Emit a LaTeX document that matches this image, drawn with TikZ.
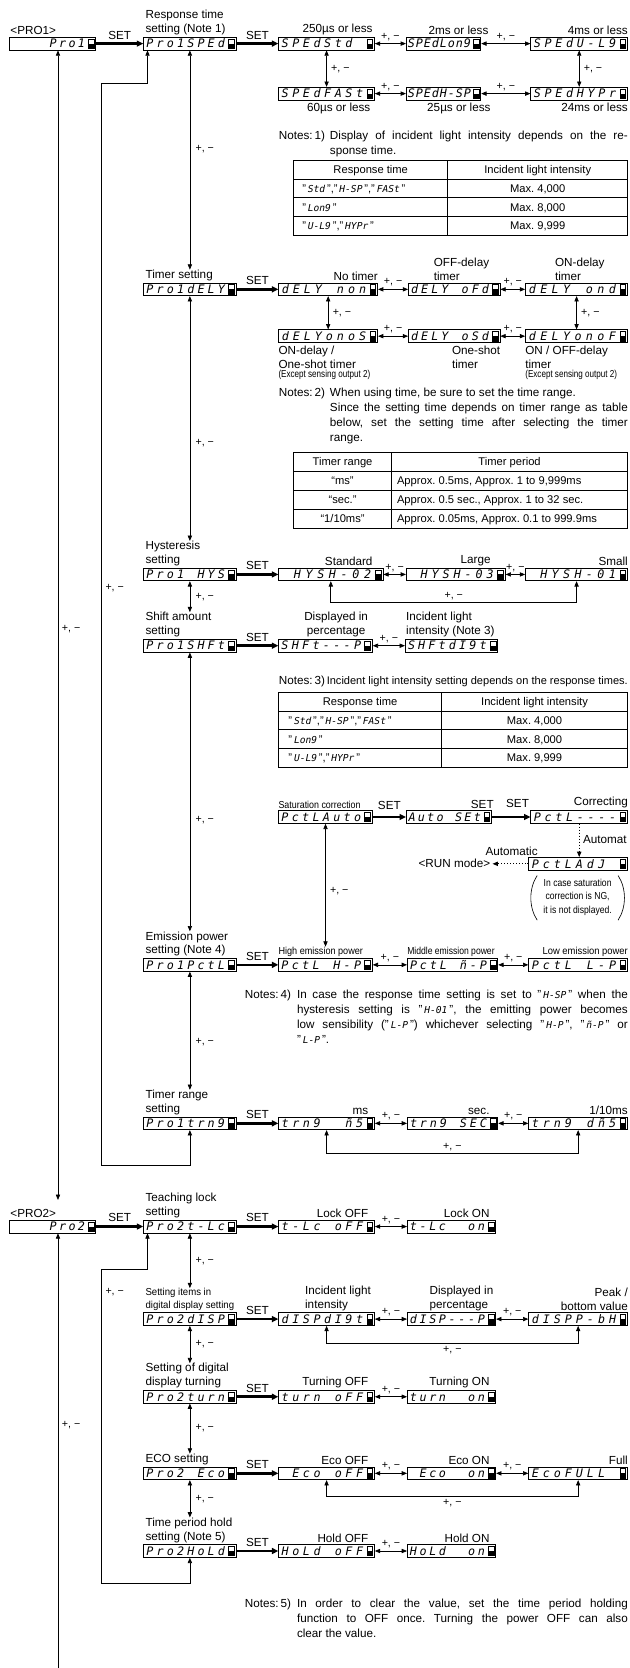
\documentclass[tikz,border=0pt]{standalone}
\usepackage{fontspec}
\setmainfont{Liberation Sans}
\newfontfamily\segfam{DejaVu Sans Mono}
\usepackage{graphicx}
\usetikzlibrary{arrows.meta}

\newlength\dspcw
\newcommand\segf{\segfam\itshape\fontsize{11}{11}\selectfont}
\newcommand\sgt[1]{{\segfam\itshape\fontsize{9}{9}\selectfont #1}}
\newcommand\qs[1]{"\,\sgt{#1}\,"}
\newcommand\dsp[1]{\dspi#1\relax}
\def\dspi#1{\ifx#1\relax\else\ifx#1*\hbox to\dspcw{\hfil}\else\hbox to\dspcw{\hss#1\hss}\fi\expandafter\dspi\fi}
\newcommand\cnd[2][0.88]{{\fontsize{9.5}{11}\selectfont\scalebox{#1}[1]{#2}}}

\newcommand\disp[5]{%
  \pgfmathsetmacro\dspW{#3-#2}%
  \pgfmathsetmacro\dspX{(#2+#3)/2}%
  \pgfmathsetlength\dspcw{(#3-#2-10)/8}%
  \node[dispbox, minimum width=\dspW pt] (#1) at (\dspX,#4) {};
  \node[anchor=base west, inner sep=0pt, font=\segf] (#1t) at ([xshift=1.2pt,yshift=-4pt]#1.west) {\dsp{#5}};
  \draw[line width=0.45pt] ([xshift=-7.6pt,yshift=-4.4pt]#1.east) rectangle ([xshift=-2.2pt,yshift=4.4pt]#1.east);
  \fill ([xshift=-7.6pt,yshift=-4.4pt]#1.east) rectangle ([xshift=-2.2pt,yshift=0pt]#1.east);
}

\begin{document}
\frenchspacing
\begin{tikzpicture}[x=1pt,y=-1pt,
  >={Triangle[length=5pt,width=4pt]},
  dispbox/.style={draw, line width=0.7pt, minimum height=12pt, inner sep=0pt, fill=white},
  lbl/.style={inner sep=0pt, font=\fontsize{11}{13}\selectfont, align=left},
  tbl/.style={inner sep=0pt, font=\fontsize{10.5}{12}\selectfont},
  pm/.style={inner sep=0pt, font=\fontsize{10}{11}\selectfont},
  dbl/.style={line width=0.65pt, <->},
  sarr/.style={line width=0.65pt, ->},
  setarr/.style={line width=2.4pt, arrows={-Triangle[length=6pt,width=5.5pt]}},
  tab/.style={line width=0.7pt},
  dotarr/.style={line width=0.8pt, dotted, ->}]
\fill[white] (0,0) rectangle (592,1568);
\useasboundingbox (0,0) rectangle (592,1568);

% ---------- main column PRO1 ----------
\disp{PRO1}{9}{90}{41}{****Pro1}
\disp{R1}{135}{222}{41}{Pro1SPEd}
\disp{R2}{135}{222}{272}{Pro1dELY}
\disp{R3}{135}{222}{540}{Pro1*HYS}
\disp{R4}{135}{222}{607}{Pro1SHFt}
\disp{R6}{135}{222}{907}{Pro1PctL}
\disp{R7}{135}{222}{1056}{Pro1trn9}

\node[lbl, anchor=south west] (LP1) at ([xshift=1pt,yshift=1.5pt]PRO1.north west) {<PRO1>};
\node[lbl, anchor=south west] (L1) at ([xshift=2pt,yshift=1.5pt]R1.north west) {Response time\\setting (Note 1)};
\node[lbl, anchor=south west] (L2) at ([xshift=2pt,yshift=1.5pt]R2.north west) {Timer setting};
\node[lbl, anchor=south west] (L3) at ([xshift=2pt,yshift=1.5pt]R3.north west) {Hysteresis\\setting};
\node[lbl, anchor=south west] (L4) at ([xshift=2pt,yshift=1.5pt]R4.north west) {Shift amount\\setting};
\node[lbl, anchor=south west] (L6) at ([xshift=2pt,yshift=1.5pt]R6.north west) {Emission power\\setting (Note 4)};
\node[lbl, anchor=south west] (L7) at ([xshift=2pt,yshift=1.5pt]R7.north west) {Timer range\\setting};

\draw[setarr] (PRO1.east) -- node[lbl, above=3pt] (S0) {SET} (R1.west);
\draw[dbl] (R1.south) -- node[pm, right=5pt, pos=0.45] (m1) {+, −} (R1.south |- L2.north);
\draw[dbl] (R2.south) -- node[pm, right=5pt, pos=0.6] (m2) {+, −} (R2.south |- L3.north);
\draw[dbl] (R3.south) -- node[pm, right=5pt, pos=0.5] (m3) {+, −} (R3.south |- L4.north);
\draw[dbl] (R4.south) -- node[pm, right=5pt, pos=0.6] (m4) {+, −} (R4.south |- L6.north);
\draw[dbl] (R6.south) -- node[pm, right=5pt, pos=0.6] (m5) {+, −} (R6.south |- L7.north);

% loops on the left
\coordinate (ka) at (95.5,1095);
\coordinate (kb) at (95.5,78);
\draw[dbl] (R7.south) |- (ka) -- (kb) -| ([xshift=4pt]R1.south west);
\node[pm, anchor=west] (pmL1) at (99,553) {+, −};
\coordinate (lt) at (54.5,1128);
\draw[dbl] ([xshift=5pt]PRO1.south) -- (lt);
\node[pm, anchor=west] (pmL2) at (58,591) {+, −};

% ---------- response time ----------
\disp{s1}{262}{352}{41}{SPEdStd*}
\disp{s2}{382}{452}{41}{SPEdLon9}
\disp{s3}{499}{590}{41}{SPEdU-L9}
\disp{s4}{262}{352}{88}{SPEdFASt}
\disp{s5}{382}{452}{88}{SPEdH-SP}
\disp{s6}{499}{590}{88}{SPEdHYPr}
\draw[setarr] (R1.east) -- node[lbl, above=3pt] (S1) {SET} (s1.west);
\draw[dbl] (s1.east) -- node[pm, above=2.5pt] {+, −} (s2.west);
\draw[dbl] (s2.east) -- node[pm, above=2.5pt] {+, −} (s3.west);
\draw[dbl] (s4.east) -- node[pm, above=2.5pt] {+, −} (s5.west);
\draw[dbl] (s5.east) -- node[pm, above=2.5pt] {+, −} (s6.west);
\draw[dbl] (s1.south) -- node[pm, right=4pt] {+, −} (s4.north);
\draw[dbl] (s3.south) -- node[pm, right=4pt] {+, −} (s6.north);
\node[lbl, anchor=south east] (v1) at ([xshift=-2pt,yshift=1.5pt]s1.north east) {250µs or less};
\node[lbl, anchor=south east] (v2) at ([xshift=7pt,yshift=1.5pt]s2.north east) {2ms or less};
\node[lbl, anchor=south east] (v3) at ([yshift=1.5pt]s3.north east) {4ms or less};
\node[lbl, anchor=north east] (v4) at ([xshift=-4pt,yshift=-2.5pt]s4.south east) {60µs or less};
\node[lbl, anchor=north east] (v5) at ([xshift=9pt,yshift=-2.5pt]s5.south east) {25µs or less};
\node[lbl, anchor=north east] (v6) at ([yshift=-2.5pt]s6.south east) {24ms or less};

\node[lbl, anchor=base west] (N1a) at (262,131) {Notes:\,1)};
\node[lbl, anchor=base west] (N1b) at (310,131) {\makebox[280pt][s]{Display of incident light intensity depends on the re-}};
\node[lbl, anchor=base west] (N1c) at (310,145) {sponse time.};

% table 1
\draw[tab] (276,151) rectangle (590,221);
\draw[tab] (276,168.5) -- (590,168.5) (276,186) -- (590,186) (276,203.5) -- (590,203.5) (421,151) -- (421,221);
\node[tbl, anchor=base] (T1a) at (348.5,163.5) {Response time};
\node[tbl, anchor=base] (T1b) at (505.5,163.5) {Incident light intensity};
\node[tbl, anchor=base west] (T1c) at (284,181) {\qs{Std},\qs{H-SP},\qs{FASt}};
\node[tbl, anchor=base] (T1d) at (505.5,181) {Max. 4,000};
\node[tbl, anchor=base west] (T1e) at (284,198.5) {\qs{Lon9}};
\node[tbl, anchor=base] (T1f) at (505.5,198.5) {Max. 8,000};
\node[tbl, anchor=base west] (T1g) at (284,216) {\qs{U-L9},\qs{HYPr}};
\node[tbl, anchor=base] (T1h) at (505.5,216) {Max. 9,999};

% ---------- timer ----------
\disp{t1}{262}{355}{272}{dELY*non}
\disp{t2}{384}{470}{272}{dELY*oFd}
\disp{t3}{494}{590}{272}{dELY*ond}
\disp{t4}{262}{355}{316}{dELYonoS}
\disp{t5}{384}{470}{316}{dELY*oSd}
\disp{t6}{494}{590}{316}{dELYonoF}
\draw[setarr] (R2.east) -- node[lbl, above=3pt] (S2) {SET} (t1.west);
\draw[dbl] (t1.east) -- node[pm, above=2.5pt] {+, −} (t2.west);
\draw[dbl] (t2.east) -- node[pm, above=2.5pt] {+, −} (t3.west);
\draw[dbl] (t4.east) -- node[pm, above=2.5pt] {+, −} (t5.west);
\draw[dbl] (t5.east) -- node[pm, above=2.5pt] {+, −} (t6.west);
\draw[dbl] (t1.south) -- node[pm, right=4pt] {+, −} (t4.north);
\draw[dbl] (t3.south) -- node[pm, right=4pt] {+, −} (t6.north);
\node[lbl, anchor=south east] (w1) at ([xshift=0pt,yshift=1.5pt]t1.north east) {No timer};
\node[lbl, anchor=south west] (w2) at ([xshift=24pt,yshift=1.5pt]t2.north west) {OFF-delay\\timer};
\node[lbl, anchor=south west] (w3) at ([xshift=28pt,yshift=1.5pt]t3.north west) {ON-delay\\timer};
\node[lbl, anchor=north west] (w4) at ([yshift=-2.5pt]t4.south west) {ON-delay /\\One-shot timer};
\node[anchor=north west, inner sep=0pt] (w4b) at ([yshift=-1.5pt]w4.south west) {\cnd[0.8]{(Except sensing output 2)}};
\node[lbl, anchor=north east] (w5) at ([yshift=-2.5pt]t5.south east) {One-shot\\timer};
\node[lbl, anchor=north west] (w6) at ([yshift=-2.5pt]t6.south west) {ON / OFF-delay\\timer};
\node[anchor=north west, inner sep=0pt] (w6b) at ([yshift=-1.5pt]w6.south west) {\cnd[0.8]{(Except sensing output 2)}};

\node[lbl, anchor=base west] (N2a) at (262,373) {Notes:\,2)};
\node[lbl, anchor=base west] (N2b) at (310,373) {When using time, be sure to set the time range.};
\node[lbl, anchor=base west] (N2c) at (310,387) {\makebox[280pt][s]{Since the setting time depends on timer range as table}};
\node[lbl, anchor=base west] (N2d) at (310,401) {\makebox[280pt][s]{below, set the setting time after selecting the timer}};
\node[lbl, anchor=base west] (N2e) at (310,415) {range.};

% table 2
\draw[tab] (276,425) rectangle (590,497);
\draw[tab] (276,443) -- (590,443) (276,461) -- (590,461) (276,479) -- (590,479) (368,425) -- (368,497);
\node[tbl, anchor=base] (T2a) at (322,437.5) {Timer range};
\node[tbl, anchor=base] (T2b) at (479,437.5) {Timer period};
\node[tbl, anchor=base] (T2c) at (322,455.5) {“ms”};
\node[tbl, anchor=base west] (T2d) at (373,455.5) {Approx. 0.5ms, Approx. 1 to 9,999ms};
\node[tbl, anchor=base] (T2e) at (322,473.5) {“sec.”};
\node[tbl, anchor=base west] (T2f) at (373,473.5) {Approx. 0.5 sec., Approx. 1 to 32 sec.};
\node[tbl, anchor=base] (T2g) at (322,491.5) {“1/10ms”};
\node[tbl, anchor=base west] (T2h) at (373,491.5) {Approx. 0.05ms, Approx. 0.1 to 999.9ms};

% ---------- hysteresis ----------
\disp{h1}{262}{360}{540}{*HYSH-02}
\disp{h2}{382}{475}{540}{*HYSH-03}
\disp{h3}{494}{590}{540}{*HYSH-01}
\draw[setarr] (R3.east) -- node[lbl, above=3pt] (S3) {SET} (h1.west);
\draw[dbl] (h1.east) -- node[pm, above=2.5pt] {+, −} (h2.west);
\draw[dbl] (h2.east) -- node[pm, above=2.5pt] {+, −} (h3.west);
\draw[dbl] (h1.south) -- ++(0,20) -| node[pm, pos=0.25, above=2pt] {+, −} (h3.south);
\node[lbl, anchor=south east] (x1) at ([xshift=-10pt,yshift=1.5pt]h1.north east) {Standard};
\node[lbl, anchor=south east] (x2) at ([xshift=-14pt,yshift=1.5pt]h2.north east) {Large};
\node[lbl, anchor=south east] (x3) at ([yshift=1.5pt]h3.north east) {Small};

% ---------- shift ----------
\disp{sh1}{262}{350}{607}{SHFt---P}
\disp{sh2}{381}{468}{607}{SHFtdI9t}
\draw[setarr] (R4.east) -- node[lbl, above=3pt] (S4) {SET} (sh1.west);
\draw[dbl] (sh1.east) -- node[pm, above=2.5pt] {+, −} (sh2.west);
\node[lbl, anchor=south, align=center] (y1) at ([xshift=10pt,yshift=1.5pt]sh1.north) {Displayed in\\percentage};
\node[lbl, anchor=south west] (y2) at ([xshift=1pt,yshift=1.5pt]sh2.north west) {Incident light\\intensity (Note 3)};

\node[lbl, anchor=base west] (N3a) at (262,643) {Notes:\,3)};
\node[lbl, anchor=base west] (N3b) at (307,643) {\resizebox{283pt}{!}{Incident light intensity setting depends on the response times.}};

% table 3
\draw[tab] (262,651) rectangle (590,721);
\draw[tab] (262,668.5) -- (590,668.5) (262,686) -- (590,686) (262,703.5) -- (590,703.5) (415,651) -- (415,721);
\node[tbl, anchor=base] (T3a) at (338.5,663.5) {Response time};
\node[tbl, anchor=base] (T3b) at (502.5,663.5) {Incident light intensity};
\node[tbl, anchor=base west] (T3c) at (271,681) {\qs{Std},\qs{H-SP},\qs{FASt}};
\node[tbl, anchor=base] (T3d) at (502.5,681) {Max. 4,000};
\node[tbl, anchor=base west] (T3e) at (271,698.5) {\qs{Lon9}};
\node[tbl, anchor=base] (T3f) at (502.5,698.5) {Max. 8,000};
\node[tbl, anchor=base west] (T3g) at (271,716) {\qs{U-L9},\qs{HYPr}};
\node[tbl, anchor=base] (T3h) at (502.5,716) {Max. 9,999};

% ---------- saturation correction ----------
\disp{sa1}{262}{350}{768}{PctLAuto}
\disp{sa2}{382}{462}{768}{Auto*SEt}
\disp{sa3}{499}{590}{768}{PctL----}
\disp{ad}{497}{590}{812}{PctLAdJ*}
\node[anchor=south west, inner sep=0pt] (z1) at ([yshift=1.5pt]sa1.north west) {\cnd[0.88]{Saturation correction}};
\draw[setarr] (sa1.east) -- node[lbl, above=6pt] (S5) {SET} (sa2.west);
\draw[setarr] (sa2.east) -- node[lbl, above=7.5pt, xshift=6pt] (S6) {SET} (sa3.west);
\node[lbl, anchor=south] (S7) at ([xshift=-9pt,yshift=7.5pt]sa2.east) {SET};
\node[lbl, anchor=south east] (z2) at ([yshift=1.5pt]sa3.north east) {Correcting};
\draw[dotarr] (sa3.south) -- (sa3.south |- ad.north);
\node[lbl, anchor=west] (z3) at (548,789) {Automat};
\coordinate (runE) at (463,812);
\draw[dotarr] (ad.west) -- (runE);
\node[lbl, anchor=east] (z4) at ([xshift=-2pt]runE) {<RUN mode>};
\node[lbl, anchor=south] (z5) at (481,804.5) {Automatic};
\node[align=center, inner sep=0pt, font=\fontsize{9.5}{12.5}\selectfont] (z6) at (543,843.5)
  {\scalebox{0.85}[1]{In case saturation}\\\scalebox{0.85}[1]{correction is NG,}\\\scalebox{0.85}[1]{it is not displayed.}};
\draw[line width=0.6pt] (505,823) .. controls (497,835) and (497,853) .. (505,865);
\draw[line width=0.6pt] (581,823) .. controls (589,835) and (589,853) .. (581,865);

% ---------- emission power ----------
\disp{e1}{262}{350}{907}{PctL*H-P}
\disp{e2}{383}{468}{907}{PctL*ñ-P}
\disp{e3}{497}{590}{907}{PctL*L-P}
\draw[setarr] (R6.east) -- node[lbl, above=3pt] (S8) {SET} (e1.west);
\draw[dbl] (e1.east) -- node[pm, above=2.5pt] {+, −} (e2.west);
\draw[dbl] (e2.east) -- node[pm, above=2.5pt] {+, −} (e3.west);
\node[anchor=south west, inner sep=0pt] (LE1) at ([yshift=1.5pt]e1.north west) {\cnd[0.9]{High emission power}};
\node[anchor=south west, inner sep=0pt] (LE2) at ([yshift=1.5pt]e2.north west) {\cnd[0.85]{Middle emission power}};
\node[anchor=south east, inner sep=0pt] (LE3) at ([yshift=1.5pt]e3.north east) {\cnd[0.93]{Low emission power}};
\draw[dbl] (sa1.south) -- node[pm, right=4pt, pos=0.55] {+, −} (sa1.south |- LE1.north);

\node[lbl, anchor=base west] (N4a) at (230,939) {Notes:\,4)};
\node[lbl, anchor=base west] (N4b) at (279,939) {\makebox[311pt][s]{In case the response time setting is set to \qs{H-SP} when the}};
\node[lbl, anchor=base west] (N4c) at (279,953) {\makebox[311pt][s]{hysteresis setting is \qs{H-01}, the emitting power becomes}};
\node[lbl, anchor=base west] (N4d) at (279,967) {\makebox[311pt][s]{low sensibility (\qs{L-P}) whichever selecting \qs{H-P}, \qs{ñ-P} or}};
\node[lbl, anchor=base west] (N4e) at (279,981) {\qs{L-P}.};

% ---------- timer range ----------
\disp{tr1}{262}{352}{1056}{trn9**ñ5}
\disp{tr2}{383}{468}{1056}{trn9*SEC}
\disp{tr3}{497}{590}{1056}{trn9*dñ5}
\draw[setarr] (R7.east) -- node[lbl, above=3pt] (S9) {SET} (tr1.west);
\draw[dbl] (tr1.east) -- node[pm, above=2.5pt] {+, −} (tr2.west);
\draw[dbl] (tr2.east) -- node[pm, above=2.5pt] {+, −} (tr3.west);
\draw[dbl] (tr1.south) -- ++(0,22) -| node[pm, pos=0.25, above=2pt] {+, −} (tr3.south);
\node[lbl, anchor=south east] (r1) at ([xshift=-6pt,yshift=1.5pt]tr1.north east) {ms};
\node[lbl, anchor=south east] (r2) at ([xshift=-8pt,yshift=1.5pt]tr2.north east) {sec.};
\node[lbl, anchor=south east] (r3) at ([yshift=1.5pt]tr3.north east) {1/10ms};

% ---------- PRO2 ----------
\disp{PRO2}{9}{90}{1153}{****Pro2}
\disp{P1}{135}{222}{1153}{Pro2t-Lc}
\disp{P2}{135}{222}{1240}{Pro2dISP}
\disp{P3}{135}{222}{1313}{Pro2turn}
\disp{P4}{135}{222}{1385}{Pro2*Eco}
\disp{P5}{135}{222}{1458}{Pro2HoLd}
\node[lbl, anchor=south west] (LP2) at ([xshift=1pt,yshift=1.5pt]PRO2.north west) {<PRO2>};
\node[lbl, anchor=south west] (M1) at ([xshift=2pt,yshift=1.5pt]P1.north west) {Teaching lock\\setting};
\node[anchor=south west, inner sep=0pt, align=left, font=\fontsize{9.5}{12}\selectfont] (M2) at ([xshift=2pt,yshift=1.5pt]P2.north west)
  {\scalebox{0.95}[1]{Setting items in}\\\scalebox{0.95}[1]{digital display setting}};
\node[lbl, anchor=south west] (M3) at ([xshift=2pt,yshift=1.5pt]P3.north west) {Setting of digital\\display turning};
\node[lbl, anchor=south west] (M4) at ([xshift=2pt,yshift=1.5pt]P4.north west) {ECO setting};
\node[lbl, anchor=south west] (M5) at ([xshift=2pt,yshift=1.5pt]P5.north west) {Time period hold\\setting (Note 5)};

\draw[setarr] (PRO2.east) -- node[lbl, above=3pt] (S10) {SET} (P1.west);
\draw[dbl] (P1.south) -- node[pm, right=5pt] (m6) {+, −} (P1.south |- M2.north);
\draw[dbl] (P2.south) -- node[pm, right=5pt] (m7) {+, −} (P2.south |- M3.north);
\draw[dbl] (P3.south) -- node[pm, right=5pt] (m8) {+, −} (P3.south |- M4.north);
\draw[dbl] (P4.south) -- node[pm, right=5pt] (m9) {+, −} (P4.south |- M5.north);

\coordinate (kc) at (95.5,1488);
\coordinate (kd) at (95.5,1193);
\draw[dbl] (P5.south) |- (kc) -- (kd) -| ([xshift=4pt]P1.south west);
\node[pm, anchor=west] (pmL3) at (99,1215) {+, −};
\coordinate (lb) at (54.5,1568);
\draw[sarr] (lb) -- ([xshift=5pt]PRO2.south);
\node[pm, anchor=west] (pmL4) at (58,1340) {+, −};

% teaching lock
\disp{tl1}{262}{352}{1153}{t-Lc*oFF}
\disp{tl2}{383}{466}{1153}{t-Lc**on}
\draw[setarr] (P1.east) -- node[lbl, above=3pt] (S11) {SET} (tl1.west);
\draw[dbl] (tl1.east) -- node[pm, above=2.5pt] {+, −} (tl2.west);
\node[lbl, anchor=south east] (q1) at ([xshift=-6pt,yshift=1.5pt]tl1.north east) {Lock OFF};
\node[lbl, anchor=south east] (q2) at ([xshift=-6pt,yshift=1.5pt]tl2.north east) {Lock ON};

% digital display items
\disp{d1}{262}{352}{1240}{dISPdI9t}
\disp{d2}{383}{466}{1240}{dISP---P}
\disp{d3}{497}{590}{1240}{dISPP-bH}
\draw[setarr] (P2.east) -- node[lbl, above=3pt] (S12) {SET} (d1.west);
\draw[dbl] (d1.east) -- node[pm, above=2.5pt] {+, −} (d2.west);
\draw[dbl] (d2.east) -- node[pm, above=2.5pt] {+, −} (d3.west);
\draw[dbl] (d1.south) -- ++(0,16) -| node[pm, pos=0.25, below=2.5pt] {+, −} (d3.south);
\node[lbl, anchor=south west] (q3) at ([xshift=25pt,yshift=1.5pt]d1.north west) {Incident light\\intensity};
\node[lbl, anchor=south west] (q4) at ([xshift=21pt,yshift=1.5pt]d2.north west) {Displayed in\\percentage};
\node[lbl, anchor=south east, align=right] (q5) at ([yshift=1.5pt]d3.north east) {Peak /\\bottom value};

% turning
\disp{tu1}{262}{352}{1313}{turn*oFF}
\disp{tu2}{383}{466}{1313}{turn**on}
\draw[setarr] (P3.east) -- node[lbl, above=3pt] (S13) {SET} (tu1.west);
\draw[dbl] (tu1.east) -- node[pm, above=2.5pt] {+, −} (tu2.west);
\node[lbl, anchor=south east] (q6) at ([xshift=-6pt,yshift=1.5pt]tu1.north east) {Turning OFF};
\node[lbl, anchor=south east] (q7) at ([xshift=-6pt,yshift=1.5pt]tu2.north east) {Turning ON};

% eco
\disp{ec1}{262}{352}{1385}{*Eco*oFF}
\disp{ec2}{383}{466}{1385}{*Eco**on}
\disp{ec3}{497}{590}{1385}{EcoFULL*}
\draw[setarr] (P4.east) -- node[lbl, above=3pt] (S14) {SET} (ec1.west);
\draw[dbl] (ec1.east) -- node[pm, above=2.5pt] {+, −} (ec2.west);
\draw[dbl] (ec2.east) -- node[pm, above=2.5pt] {+, −} (ec3.west);
\draw[dbl] (ec1.south) -- ++(0,15) -| node[pm, pos=0.25, below=2.5pt] {+, −} (ec3.south);
\node[lbl, anchor=south east] (q8) at ([xshift=-6pt,yshift=1.5pt]ec1.north east) {Eco OFF};
\node[lbl, anchor=south east] (q9) at ([xshift=-6pt,yshift=1.5pt]ec2.north east) {Eco ON};
\node[lbl, anchor=south east] (q10) at ([yshift=1.5pt]ec3.north east) {Full};

% hold
\disp{ho1}{262}{352}{1458}{HoLd*oFF}
\disp{ho2}{383}{466}{1458}{HoLd**on}
\draw[setarr] (P5.east) -- node[lbl, above=3pt] (S15) {SET} (ho1.west);
\draw[dbl] (ho1.east) -- node[pm, above=2.5pt] {+, −} (ho2.west);
\node[lbl, anchor=south east] (q11) at ([xshift=-6pt,yshift=1.5pt]ho1.north east) {Hold OFF};
\node[lbl, anchor=south east] (q12) at ([xshift=-6pt,yshift=1.5pt]ho2.north east) {Hold ON};

\node[lbl, anchor=base west] (N5a) at (230,1511) {Notes:\,5)};
\node[lbl, anchor=base west] (N5b) at (279,1511) {\makebox[311pt][s]{In order to clear the value, set the time period holding}};
\node[lbl, anchor=base west] (N5c) at (279,1525) {\makebox[311pt][s]{function to OFF once. Turning the power OFF can also}};
\node[lbl, anchor=base west] (N5d) at (279,1539) {clear the value.};
\end{tikzpicture}
\end{document}
